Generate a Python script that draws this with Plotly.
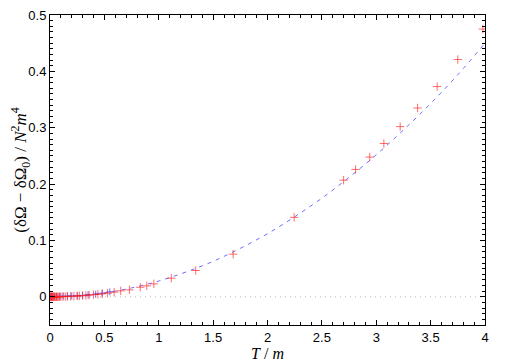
import plotly.graph_objects as go

# red data set
red_T = [0.003, 0.006, 0.01, 0.014, 0.018, 0.022, 0.027, 0.032, 0.038, 0.045, 0.052,
         0.06, 0.07, 0.08, 0.09, 0.1, 0.12, 0.14, 0.16, 0.19, 0.22, 0.25, 0.27, 0.3,
         0.33, 0.36, 0.4, 0.44, 0.48, 0.53, 0.59, 0.65, 0.73, 0.83, 0.89, 0.955,
         1.115, 1.34, 1.684, 2.245, 2.70, 2.81, 2.94, 3.07, 3.22, 3.38, 3.56, 3.75, 3.98]
red_v = [0.0, 0.0, 0.0, 0.0, 0.0, 0.0, 0.0, 0.0, 0.0, 0.0, 0.0,
         0.0, 0.0, 0.0, 0.0, 0.0003, 0.0004, 0.0005, 0.0007, 0.0009, 0.0012, 0.0015, 0.0017, 0.002,
         0.0025, 0.003, 0.0038, 0.0045, 0.0052, 0.0065, 0.0083, 0.0106, 0.0124, 0.017, 0.0195, 0.023,
         0.033, 0.0467, 0.0757, 0.141, 0.207, 0.226, 0.248, 0.272, 0.302, 0.335, 0.373, 0.421, 0.475]

# blue data set
blue_T = [0.01, 0.02, 0.04, 0.06, 0.09, 0.12, 0.16, 0.2, 0.25, 0.3, 0.35, 0.42, 0.48, 0.55]
blue_v = [0.0005, 0.0006, 0.0007, 0.0008, 0.0009, 0.0011, 0.0013, 0.0016, 0.002, 0.0026,
          0.0034, 0.0048, 0.0065, 0.0088]

# dashed fit curve
fit_T = [0, 0.25, 0.5, 0.75, 1, 1.25, 1.5, 1.75, 2, 2.25, 2.5, 2.75, 3, 3.25, 3.5, 3.75, 4]
fit_v = [0, 0.0018, 0.007, 0.0158, 0.028, 0.044, 0.063, 0.086, 0.112, 0.142, 0.175,
         0.212, 0.252, 0.296, 0.343, 0.394, 0.45]

zero_T = [0, 4]
zero_v = [0, 0]

x_ticks = [0, 0.5, 1, 1.5, 2, 2.5, 3, 3.5, 4]
x_labels = ["0", "0.5", "1", "1.5", "2", "2.5", "3", "3.5", "4"]
y_ticks = [0, 0.1, 0.2, 0.3, 0.4, 0.5]
y_labels = ["0", "0.1", "0.2", "0.3", "0.4", "0.5"]

fig = go.Figure()
fig.add_trace(go.Scatter(x=zero_T, y=zero_v, mode="lines",
                         line=dict(color="rgb(185,185,185)", width=1, dash="1px,4px"),
                         showlegend=False, hoverinfo="skip"))
fig.add_trace(go.Scatter(x=fit_T, y=fit_v, mode="lines", line_shape="spline",
                         line=dict(color="rgba(60,60,255,0.75)", width=1, dash="4px,5px"),
                         showlegend=False))
fig.add_trace(go.Scatter(x=blue_T, y=blue_v, mode="markers",
                         marker=dict(symbol="cross-thin", size=5,
                                     line=dict(color="rgba(40,40,255,0.65)", width=1)),
                         showlegend=False))
fig.add_trace(go.Scatter(x=red_T, y=red_v, mode="markers",
                         marker=dict(symbol="cross-thin", size=6,
                                     line=dict(color="rgba(255,30,30,0.65)", width=1)),
                         showlegend=False))

axis_common = dict(showgrid=False, zeroline=False, showline=True, linecolor="black",
                   linewidth=1, ticks="inside", ticklen=5, automargin=False,
                   ticklabeloverflow="allow",
                   tickcolor="black", tickfont=dict(family="Liberation Sans", size=13, color="black"))

fig.update_layout(
    xaxis=dict(range=[0, 4], tickvals=x_ticks, ticktext=x_labels,
               minor=dict(dtick=0.1, ticks="inside", ticklen=3, tickcolor="black"),
               title=dict(text="<i>T</i> / <i>m</i>", standoff=2,
                          font=dict(family="Liberation Serif", size=16, color="black")),
               **axis_common),
    yaxis=dict(range=[-0.05, 0.5], tickvals=y_ticks, ticktext=y_labels,
               minor=dict(dtick=0.01, ticks="inside", ticklen=3, tickcolor="black"),
               title=dict(text="(δΩ − δΩ<sub>0</sub>) / <i>N</i><sup>2</sup><i>m</i><sup>4</sup>",
                          standoff=3,
                          font=dict(family="Liberation Serif", size=17, color="black")),
               **axis_common),
    xaxis2=dict(range=[0, 4], tickvals=x_ticks, showticklabels=False, overlaying="x",
                side="top", anchor="y",
                minor=dict(dtick=0.1, ticks="inside", ticklen=3, tickcolor="black"),
                **axis_common),
    yaxis2=dict(range=[-0.05, 0.5], tickvals=y_ticks, showticklabels=False, overlaying="y",
                side="right", anchor="x",
                minor=dict(dtick=0.01, ticks="inside", ticklen=3, tickcolor="black"),
                **axis_common),
)
# invisible trace to activate the mirrored axes
fig.add_trace(go.Scatter(x=zero_T, y=zero_v, xaxis="x2", yaxis="y2", mode="lines",
                         line=dict(width=0), opacity=0, showlegend=False, hoverinfo="skip"))

# page body has an 8px default margin; size the figure to compensate
fig.update_layout(width=499, height=355, margin=dict(l=42, r=22, t=7, b=38),
                  paper_bgcolor="white", plot_bgcolor="white")

fig.write_html("out.html")
